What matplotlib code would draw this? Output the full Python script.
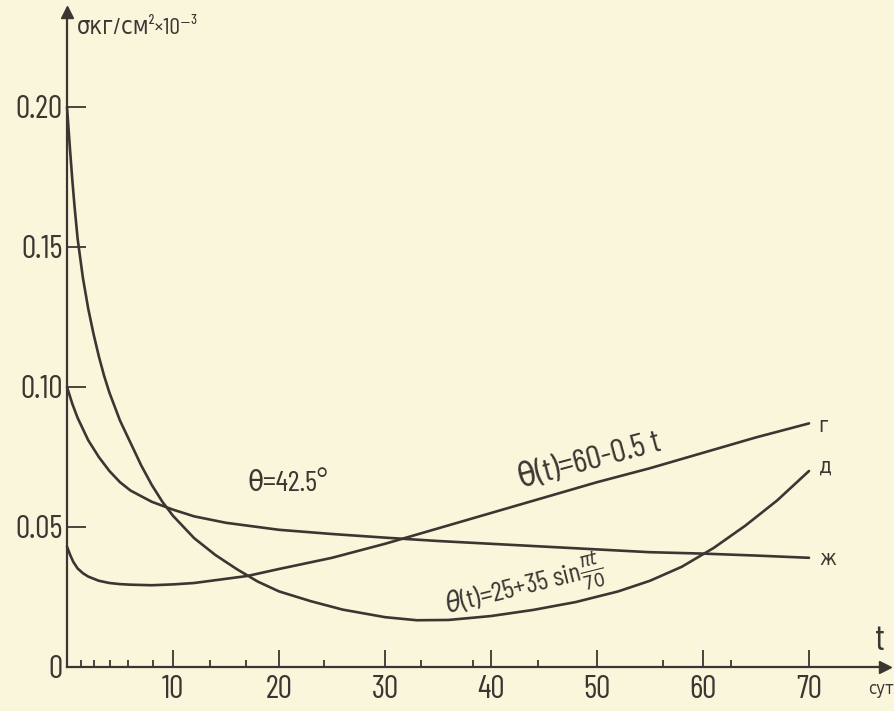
import matplotlib
matplotlib.use("Agg")
import matplotlib.pyplot as plt

plt.rcParams['font.family'] = ['Barlow Condensed', 'DejaVu Sans']
plt.rcParams['font.stretch'] = 'condensed'

# --- data -------------------------------------------------------------------
# curve "д": theta(t) = 25 + 35 sin(pi t / 70)
t_d = [0, 0.15, 0.3, 0.5, 0.7, 1.0, 1.5, 2.0, 2.5, 3, 3.5, 4, 5, 6, 7, 8, 9, 10,
       11, 12, 14, 16, 18, 20, 23, 26, 30, 33, 36, 40, 44, 48, 52, 55, 58, 61,
       64, 67, 70]
s_d = [0.200, 0.192, 0.184, 0.174, 0.165, 0.153, 0.139, 0.128, 0.119, 0.111,
       0.104, 0.098, 0.088, 0.080, 0.072, 0.065, 0.059, 0.054, 0.050, 0.046,
       0.040, 0.035, 0.0305, 0.027, 0.0235, 0.0205, 0.0178, 0.0167, 0.0168,
       0.0182, 0.0204, 0.0232, 0.0270, 0.0308, 0.0358, 0.0425, 0.0505, 0.0595,
       0.070]

# curve "ж": theta = 42.5 deg
t_zh = [0, 0.5, 1, 1.5, 2, 3, 4, 5, 6, 7, 8, 10, 12, 15, 20, 25, 30, 35, 40,
        45, 50, 55, 60, 65, 70]
s_zh = [0.100, 0.094, 0.089, 0.085, 0.081, 0.075, 0.070, 0.066, 0.063, 0.061,
        0.059, 0.0562, 0.0538, 0.0515, 0.049, 0.0475, 0.0462, 0.045, 0.044,
        0.043, 0.042, 0.041, 0.0405, 0.0398, 0.039]

# curve "г": theta(t) = 60 - 0.5 t
t_g = [0, 0.3, 0.6, 1, 1.5, 2, 3, 4, 5, 6, 8, 10, 12, 14, 17, 20, 25, 30, 35,
       40, 45, 50, 55, 60, 65, 70]
s_g = [0.043, 0.040, 0.0375, 0.0352, 0.0335, 0.0323, 0.0308, 0.0300, 0.0296,
       0.0294, 0.0292, 0.0295, 0.0300, 0.0310, 0.0325, 0.035, 0.039, 0.044,
       0.0495, 0.055, 0.0605, 0.066, 0.071, 0.0765, 0.082, 0.087]

x_major = [10, 20, 30, 40, 50, 60, 70]
x_minor = [1.3, 2.5, 4.1, 5.8, 8.1, 13.5, 16.9, 24.2, 33.4, 38.3, 44.4, 56.2, 62.6]
y_ticks = [0, 0.05, 0.10, 0.15, 0.20]
y_ticklabels = ['0', '0.05', '0.10', '0.15', '0.20']

bg = '#faf6dc'
ink = '#3a3732'

fig = plt.figure(figsize=(8.95, 7.11), dpi=100, facecolor=bg)
# axes placed so that origin sits at px (67, 667)
ax = fig.add_axes([67 / 895, (711 - 667) / 711, (885 - 67) / 895, (667 - 12) / 711])
ax.set_facecolor(bg)
ax.set_xlim(0, (885 - 67) / 10.6)
ax.set_ylim(0, (667 - 12) / 2800)

for tt, ss in [(t_d, s_d), (t_zh, s_zh), (t_g, s_g)]:
    ax.plot(tt, ss, color=ink, lw=1.9, solid_capstyle='round',
            solid_joinstyle='round', clip_on=False)

# axes with arrows
for side in ['top', 'right']:
    ax.spines[side].set_visible(False)
for side in ['left', 'bottom']:
    ax.spines[side].set_color(ink)
    ax.spines[side].set_linewidth(1.6)
ax.plot(1, 0, '>', color=ink, ms=8, transform=ax.transAxes, clip_on=False)
ax.plot(0, 1, '^', color=ink, ms=8, transform=ax.transAxes, clip_on=False)

ax.set_xticks(x_major)
ax.set_xticklabels([str(v) for v in x_major])
ax.set_xticks(x_minor, minor=True)
ax.set_yticks(y_ticks)
ax.set_yticklabels(y_ticklabels)
ax.tick_params(axis='x', which='major', direction='in', length=12, width=1.3,
               color=ink, labelcolor=ink, labelsize=23, pad=6)
ax.tick_params(axis='x', which='minor', direction='in', length=5, width=1.3,
               color=ink)
ax.tick_params(axis='y', which='major', direction='in', length=14, width=1.3,
               color=ink, labelcolor=ink, labelsize=23, pad=3)

# axis captions
ax.text(0.9, 0.228, 'σкг/см²×10⁻³', color=ink, fontsize=17,
        ha='left', va='center', clip_on=False)
ax.text(76.7, 0.0095, 't', color=ink, fontsize=26, ha='center', va='center')
ax.text(76.8, -0.0085, 'сут', color=ink, fontsize=12, ha='center', va='center',
        clip_on=False)

# curve labels
ax.text(70.9, 0.0860, 'г', color=ink, fontsize=15, ha='left', va='center')
ax.text(70.9, 0.0715, 'д', color=ink, fontsize=15, ha='left', va='center')
ax.text(71.0, 0.0385, 'ж', color=ink, fontsize=15, ha='left', va='center')
ax.text(20.8, 0.0655, 'θ=42.5°', color=ink, fontsize=21, ha='center', va='center')
ax.text(49.3, 0.0735, 'θ(t)=60-0.5 t', color=ink, fontsize=24, rotation=15,
        ha='center', va='center', rotation_mode='anchor')
ax.text(43.2, 0.0285, r'$\theta$(t)=25+35 sin$\frac{\pi t}{70}$', color=ink,
        fontsize=20, rotation=14, ha='center', va='center', rotation_mode='anchor')

fig.savefig('out.png', dpi=100, facecolor=bg)
